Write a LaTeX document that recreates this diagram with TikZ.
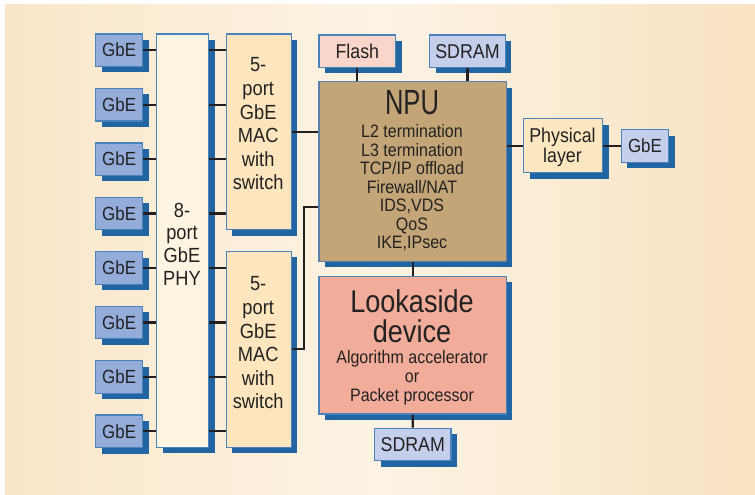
\documentclass[tikz,border=0pt]{standalone}
\usepackage{fontspec}
\setmainfont{Liberation Sans}[FakeStretch=0.89]
\newfontfamily\npufont{Liberation Sans}[FakeStretch=0.73]
\newfontfamily\lookfont{Liberation Sans}[FakeStretch=0.86]
\usetikzlibrary{shadows}

\definecolor{bgL}{HTML}{FAE7CA}
\definecolor{bgM}{HTML}{FCF3E4}
\definecolor{bgR}{HTML}{F9E3C2}
\definecolor{edge}{HTML}{4A82BC}
\definecolor{shade}{HTML}{2166A2}
\definecolor{gbefill}{HTML}{93ACDA}
\definecolor{memfill}{HTML}{C5CEEA}
\definecolor{phyfill}{HTML}{FDF4E2}
\definecolor{macfill}{HTML}{FDE5BE}
\definecolor{npufill}{HTML}{C4A578}
\definecolor{flashfill}{HTML}{F9D5CA}
\definecolor{physfill}{HTML}{FDE7C1}
\definecolor{lookfill}{HTML}{F2AC9A}
\definecolor{ink}{HTML}{222222}
\definecolor{wire}{HTML}{231F20}

\tikzset{
  block/.style={draw=edge, line width=1.3pt, inner sep=0pt, anchor=north west,
    text=ink, align=center,
    drop shadow={shadow xshift=6pt, shadow yshift=-6pt, fill=shade, opacity=1}},
  gbe/.style={block, fill=gbefill, minimum width=47pt, minimum height=32.5pt,
    font=\fontsize{19}{21}\selectfont},
  mem/.style={block, fill=memfill, font=\fontsize{20}{22}\selectfont},
  label/.style={inner sep=0pt, text=ink, align=center},
  link/.style={draw=wire, line width=2.2pt}
}

\begin{document}
\begin{tikzpicture}[x=1pt, y=-1pt]
\useasboundingbox (0,0) rectangle (755,495);
\shade[left color=bgL, right color=bgR, middle color=bgM] (5,5) rectangle (755,494);

% left-hand GbE ports
\foreach \i in {1,...,8} {
  \node[gbe] (g\i) at (95, {33.3+(\i-1)*54.45}) {GbE};
}

% 8-port PHY
\node[block, fill=phyfill, minimum width=52pt, minimum height=413.5pt] (phy) at (156,33.3) {};
\node[label, font=\fontsize{20.5}{22.7}\selectfont] (phytxt) at (182,244) {8-\\port\\GbE\\PHY};

% two 5-port MACs
\node[block, fill=macfill, minimum width=65pt, minimum height=195.7pt] (maca) at (225.7,33.3) {};
\node[block, fill=macfill, minimum width=65pt, minimum height=196pt] (macb) at (225.7,250.7) {};
\node[label, font=\fontsize{20.5}{23.6}\selectfont] (macatxt) at (258.2,124) {5-\\port\\GbE\\MAC\\with\\switch};
\node[label, font=\fontsize{20.5}{23.6}\selectfont] (macbtxt) at (258.2,343) {5-\\port\\GbE\\MAC\\with\\switch};

% NPU and its memories
\node[block, fill=npufill, draw=edge!70!gray, minimum width=187.4pt, minimum height=179.7pt] (npu) at (318.3,81) {};
\node[label, font=\fontsize{35}{36}\npufont] (nputitle) at (412,103) {NPU};
\node[label, font=\fontsize{18}{18.5}\selectfont] (nputxt) at (412,188)
  {L2 termination\\L3 termination\\TCP/IP offload\\Firewall/NAT\\IDS,VDS\\QoS\\IKE,IPsec};

\node[block, fill=flashfill, minimum width=76.7pt, minimum height=32.4pt, font=\fontsize{20}{22}\selectfont] (flash) at (318.3,34.3) {Flash};
\node[mem, minimum width=75.7pt, minimum height=32.4pt] (sdtop) at (429,34.3) {SDRAM};

% physical layer and uplink port
\node[block, fill=physfill, minimum width=79pt, minimum height=54pt] (phys) at (523,118) {};
\node[label, font=\fontsize{20}{20}\selectfont] (physTxt) at (562.5,147) {Physical\\layer};
\node[block, fill=memfill, minimum width=47.3pt, minimum height=32.7pt, font=\fontsize{19}{21}\selectfont] (gr) at (620.7,129) {GbE};

% lookaside device and its memory
\node[block, fill=lookfill, minimum width=187.4pt, minimum height=137.6pt] (look) at (318.3,275.7) {};
\node[label, font=\fontsize{31.5}{33}\lookfont, anchor=base] (looktitleA) at (412,312.6) {Lookaside};
\node[label, font=\fontsize{31.5}{33}\lookfont, anchor=base] (looktitleB) at (412,342.2) {device};
\node[label, font=\fontsize{18}{19.2}\selectfont] (looktxt) at (412,377.6)
  {Algorithm accelerator\\or\\Packet processor};
\node[mem, minimum width=76.3pt, minimum height=32.3pt] (sdbot) at (374,427.7) {SDRAM};

% connectors
\coordinate (bend) at (304.3,206.7);
\foreach \i in {1,...,8} {
  \draw[link] (g\i.east) -- (g\i.east -| phy.west);
}
\foreach \i in {1,...,4} {
  \draw[link] (g\i.east -| phy.east) -- (g\i.east -| maca.west);
}
\foreach \i in {5,...,8} {
  \draw[link] (g\i.east -| phy.east) -- (g\i.east -| macb.west);
}
\draw[link] (maca.east) -- (maca.east -| npu.west);
\draw[link] (macb.east) -| (bend) -- (bend -| npu.west);
\draw[link] (flash.south) -- (flash.south |- npu.north);
\draw[link] (sdtop.south) -- (sdtop.south |- npu.north);
\draw[link] (phys.west) -- (phys.west -| npu.east);
\draw[link] (phys.east) -- (phys.east -| gr.west);
\draw[link] (npu.south) -- (look.north);
\draw[link] (look.south) -- (sdbot.north);
\end{tikzpicture}
\end{document}
